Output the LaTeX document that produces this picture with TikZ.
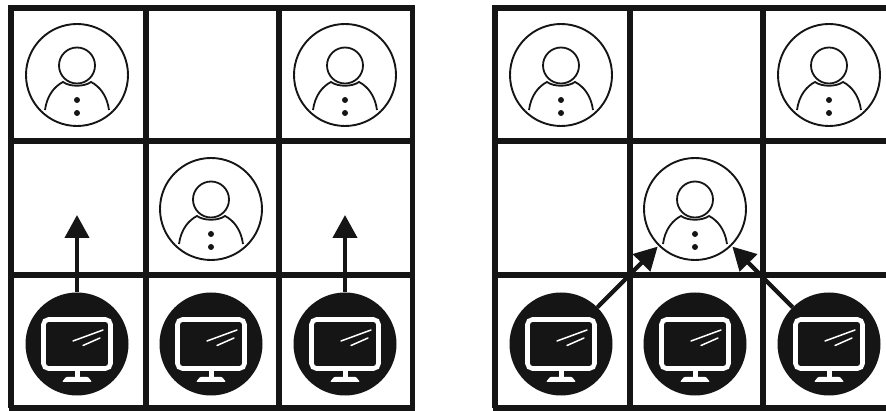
\documentclass[tikz,border=0pt]{standalone}
\usetikzlibrary{arrows.meta}
\definecolor{ink}{HTML}{151515}
\tikzset{
  x=1pt,y=-1pt,
  gridline/.style={draw=ink,line width=5.5pt},
  ring/.style={circle,draw=ink,line width=1.9pt,fill=white,minimum size=102pt,inner sep=0pt,outer sep=2pt},
  disc/.style={circle,fill=ink,minimum size=103pt,inner sep=0pt,outer sep=0pt},
  thin ink/.style={draw=ink,line width=1.8pt},
  glass/.style={draw=white,line width=1.5pt,line cap=round},
  link/.style={draw=ink,line width=4.2pt,-{Triangle[length=23pt,width=24pt]},shorten >=0pt},
  pics/person/.style={code={
    \draw[thin ink] (0,-9.5) circle[radius=18];
    \draw[thin ink] (-32,35) .. controls (-30,20) and (-22,11) .. (-14,7) .. controls (-7,12) and (7,12) .. (14,7) .. controls (22,11) and (30,20) .. (32,35);
    \fill[ink] (0,25) circle[radius=3] (0,38) circle[radius=3];
  }},
  pics/monitor/.style={code={
    \draw[white,line width=4.6pt,rounded corners=5pt] (-33.5,-24.5) rectangle (33.5,24.5);
    \fill[white] (-2.5,26) rectangle (2.5,35);
    \fill[white,rounded corners=1pt] (-11,33) -- (11,33) -- (15,38) -- (-15,38) -- cycle;
    \draw[glass] (-4,-3) -- (26,-14);
    \draw[glass] (6,1.5) -- (23,-6);
  }},
}
\newcommand{\gridat}[2]{% x offset, right end
  \draw[gridline] (#1+11,5.5)--(#1+11,408);
  \draw[gridline] (#1+146,8)--(#1+146,408);
  \draw[gridline] (#1+279,8)--(#1+279,408);
  \foreach \yy in {8,141,275,408} \draw[gridline] (#1+8.5,\yy)--(#2,\yy);
}
\begin{document}
\begin{tikzpicture}
\useasboundingbox (0,0) rectangle (886,411);
% left board
\gridat{0}{415}
\draw[gridline] (412.5,5.5)--(412.5,411);
% right board
\gridat{484}{886}
% people, left
\node[ring] (ua) at (77,75) {}; \pic at (ua.center) {person};
\node[ring] (uc) at (345,75) {}; \pic at (uc.center) {person};
\node[ring] (ub) at (211,209) {}; \pic at (ub.center) {person};
% people, right
\node[ring] (va) at (561,75) {}; \pic at (va.center) {person};
\node[ring] (vc) at (829,75) {}; \pic at (vc.center) {person};
\node[ring] (vb) at (695,209) {}; \pic at (vb.center) {person};
% monitors
\node[disc] (ma) at (77,344) {}; \pic at (ma.center) {monitor};
\node[disc] (mb) at (211,344) {}; \pic at (mb.center) {monitor};
\node[disc] (mc) at (345,344) {}; \pic at (mc.center) {monitor};
\node[disc] (na) at (561,344) {}; \pic at (na.center) {monitor};
\node[disc] (nb) at (695,344) {}; \pic at (nb.center) {monitor};
\node[disc] (nc) at (829,344) {}; \pic at (nc.center) {monitor};
% connectors
\coordinate (ta) at (77,215);
\coordinate (tc) at (345,215);
\draw[link] (ma) -- (ta);
\draw[link] (mc) -- (tc);
\draw[link] (na) -- (vb);
\draw[link] (nc) -- (vb);
\end{tikzpicture}
\end{document}
